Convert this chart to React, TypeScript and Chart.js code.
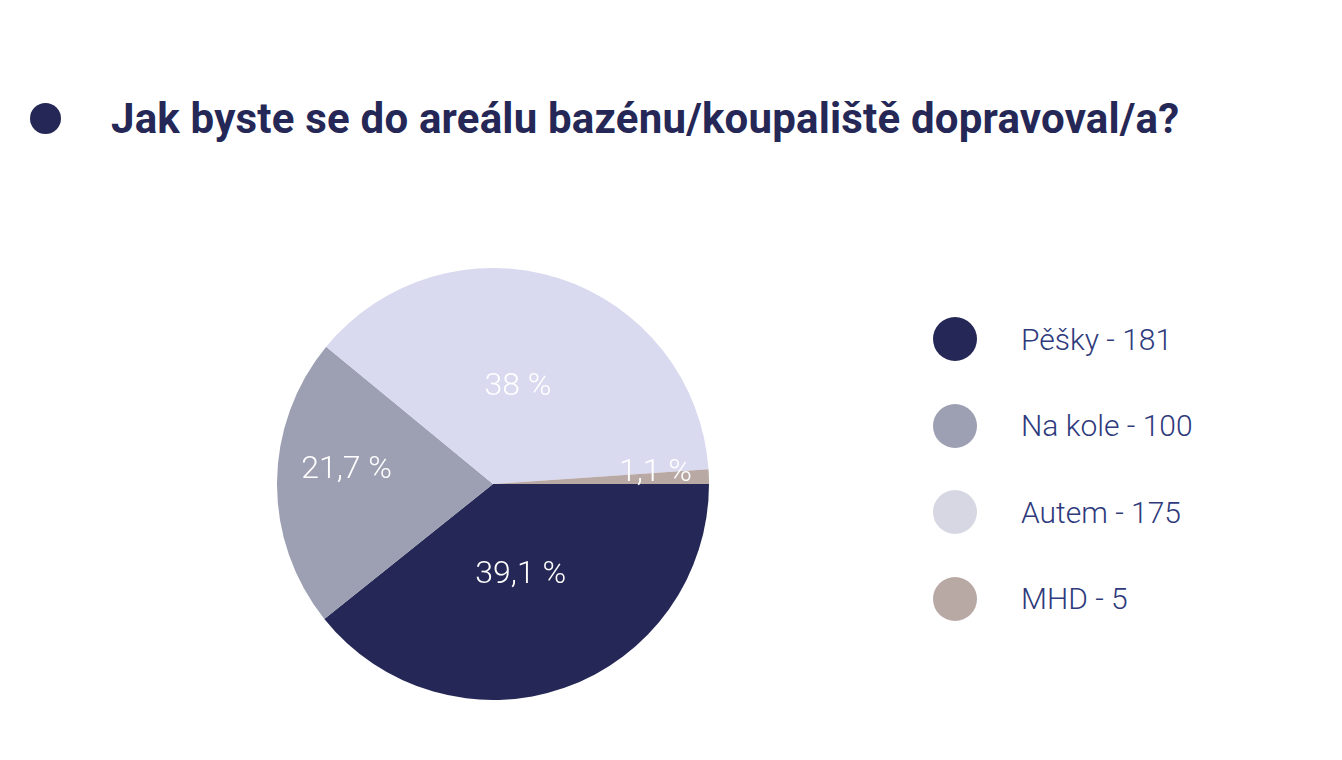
import Chart from "chart.js/auto";
import React, { useEffect, useRef } from "react";

const labels = ["Pěšky", "Na kole", "Autem", "MHD"];
const counts = [181, 100, 175, 5];
const percents = ["39,1 %", "21,7 %", "38 %", "1,1 %"];
const sliceColors = ["#252856", "#9d9fb3", "#d9d9ef", "#b8a9a5"];
const legendColors = ["#252856", "#9d9fb3", "#d7d7e3", "#b8a9a5"];

const title = "Jak byste se do areálu bazénu/koupaliště dopravoval/a?";

// draws the percentage inside each slice
const sliceLabels = {
  id: "sliceLabels",
  afterDatasetsDraw(chart: any) {
    const { ctx } = chart;
    const meta = chart.getDatasetMeta(0);
    ctx.save();
    ctx.fillStyle = "#ffffff";
    ctx.font = "300 32px Roboto";
    ctx.textBaseline = "middle";
    meta.data.forEach((arc: any, i: number) => {
      const mid = (arc.startAngle + arc.endAngle) / 2;
      const r = arc.outerRadius * 0.5;
      const x = arc.x + Math.cos(mid) * r;
      const y = arc.y + Math.sin(mid) * r;
      const c = Math.cos(mid);
      ctx.textAlign = c < -0.5 ? "right" : c > 0.5 ? "left" : "center";
      const dx = c < -0.5 ? 7 : c > 0.5 ? 18 : -8;
      const dy = c < -0.5 ? -13 : c > 0.5 ? -7 : Math.sin(mid) > 0 ? -11 : 6;
      ctx.fillText(percents[i], x + dx, y + dy);
    });
    ctx.restore();
  },
};

export default function App() {
  const chartRef = useRef<HTMLCanvasElement | null>(null);

  useEffect(() => {
    document.body.style.margin = "0";
    let chartInstance: Chart | null = null;
    if (chartRef.current) {
      chartInstance = new Chart(chartRef.current, {
        type: "pie",
        data: {
          labels: labels,
          datasets: [
            {
              data: counts,
              backgroundColor: sliceColors,
              borderWidth: 0,
            },
          ],
        },
        options: {
          animation: false,
          responsive: false,
          rotation: 90,
          layout: { padding: 0 },
          plugins: {
            legend: { display: false },
            tooltip: { enabled: false },
          },
        },
        plugins: [sliceLabels],
      });
    }
    return () => {
      if (chartInstance) {
        chartInstance.destroy();
      }
    };
  }, []);

  return (
    <div
      style={{
        position: "relative",
        width: 1342,
        height: 760,
        background: "#ffffff",
        fontFamily: "Roboto, sans-serif",
        overflow: "hidden",
      }}
    >
      <div
        style={{
          position: "absolute",
          left: 30,
          top: 103,
          width: 31,
          height: 31,
          borderRadius: "50%",
          background: "#252856",
        }}
      />
      <div
        style={{
          position: "absolute",
          left: 111,
          top: 94,
          fontSize: 42,
          fontWeight: 700,
          color: "#252856",
          whiteSpace: "nowrap",
          lineHeight: "50px",
          letterSpacing: 0.2,
        }}
      >
        {title}
      </div>
      <canvas
        ref={chartRef}
        width={432}
        height={432}
        style={{ position: "absolute", left: 277, top: 268, width: 432, height: 432 }}
      />
      {labels.map((l, i) => (
        <div
          key={l}
          style={{
            position: "absolute",
            left: 933,
            top: 317 + i * 86.5,
            height: 44,
            display: "flex",
            alignItems: "center",
            whiteSpace: "nowrap",
          }}
        >
          <div
            style={{
              width: 44,
              height: 44,
              borderRadius: "50%",
              background: legendColors[i],
            }}
          />
          <div
            style={{
              marginLeft: 44,
              fontSize: 30,
              fontWeight: 300,
              color: "#2e3a7c",
            }}
          >
            {l} - {counts[i]}
          </div>
        </div>
      ))}
    </div>
  );
}
